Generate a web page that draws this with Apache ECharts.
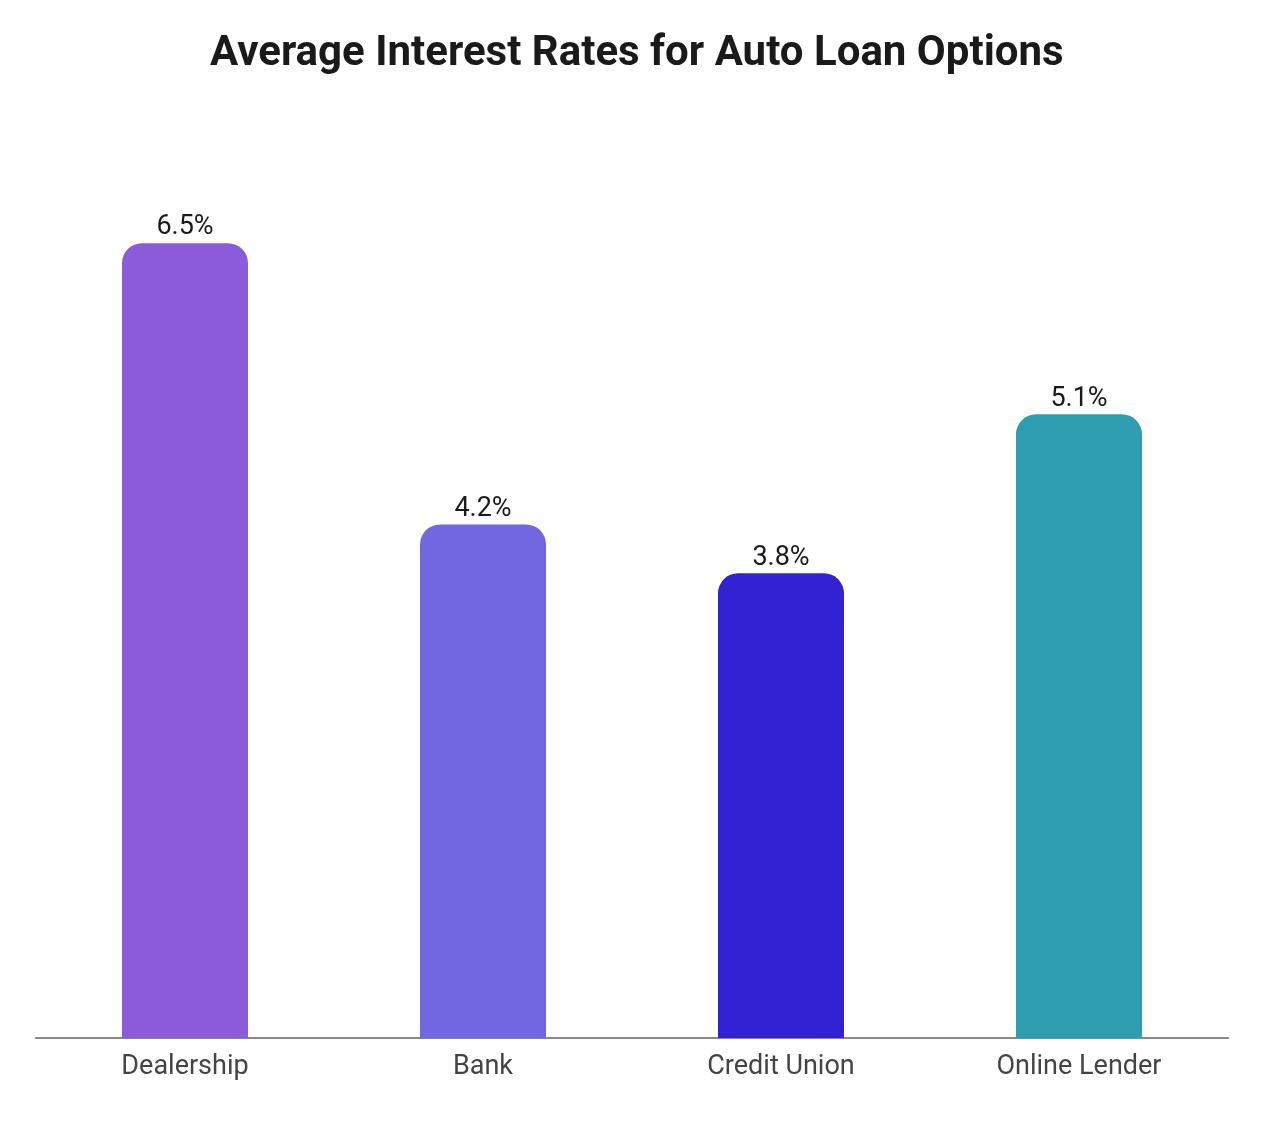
<!DOCTYPE html>
<html><head><meta charset="utf-8">
<script src="https://cdn.jsdelivr.net/npm/echarts@6/dist/echarts.min.js"></script>
<style>html,body{margin:0;padding:0;background:#fff}#c{width:1288px;height:1146px}</style>
</head><body><div id="c"></div>
<script>
const categories = ["Dealership", "Bank", "Credit Union", "Online Lender"];
const rates = [6.5, 4.2, 3.8, 5.1];
const barColors = ["#8B5CD9", "#7367E0", "#3222D2", "#2D9DAF"];

const chart = echarts.init(document.getElementById('c'), null, {renderer: 'canvas'});
chart.setOption({
  backgroundColor: '#fff',
  animation: false,
  title: {
    text: 'Average Interest Rates for Auto Loan Options',
    left: 205, top: 28,
    textStyle: {fontFamily: 'Roboto', fontWeight: 'bold', fontSize: 42, color: '#1a1a1a'}
  },
  grid: {left: 36, right: 60, top: 182, bottom: 108, containLabel: false},
  xAxis: {
    type: 'category', data: categories,
    axisLine: {lineStyle: {color: '#888', width: 2}},
    axisTick: {show: false},
    axisLabel: {fontFamily: 'Roboto', fontSize: 27, color: '#444', margin: 16}
  },
  yAxis: {
    type: 'value', min: 0, max: 7, show: false,
    splitLine: {show: false}
  },
  series: [{
    type: 'bar',
    barWidth: 126,
    data: rates.map((v, i) => ({value: v, itemStyle: {color: barColors[i]}})),
    itemStyle: {borderRadius: [20, 20, 0, 0]},
    label: {
      show: true, position: 'top', distance: 2,
      formatter: p => p.value + '%',
      fontFamily: 'Roboto', fontSize: 27, color: '#1a1a1a'
    }
  }]
});
</script></body></html>
